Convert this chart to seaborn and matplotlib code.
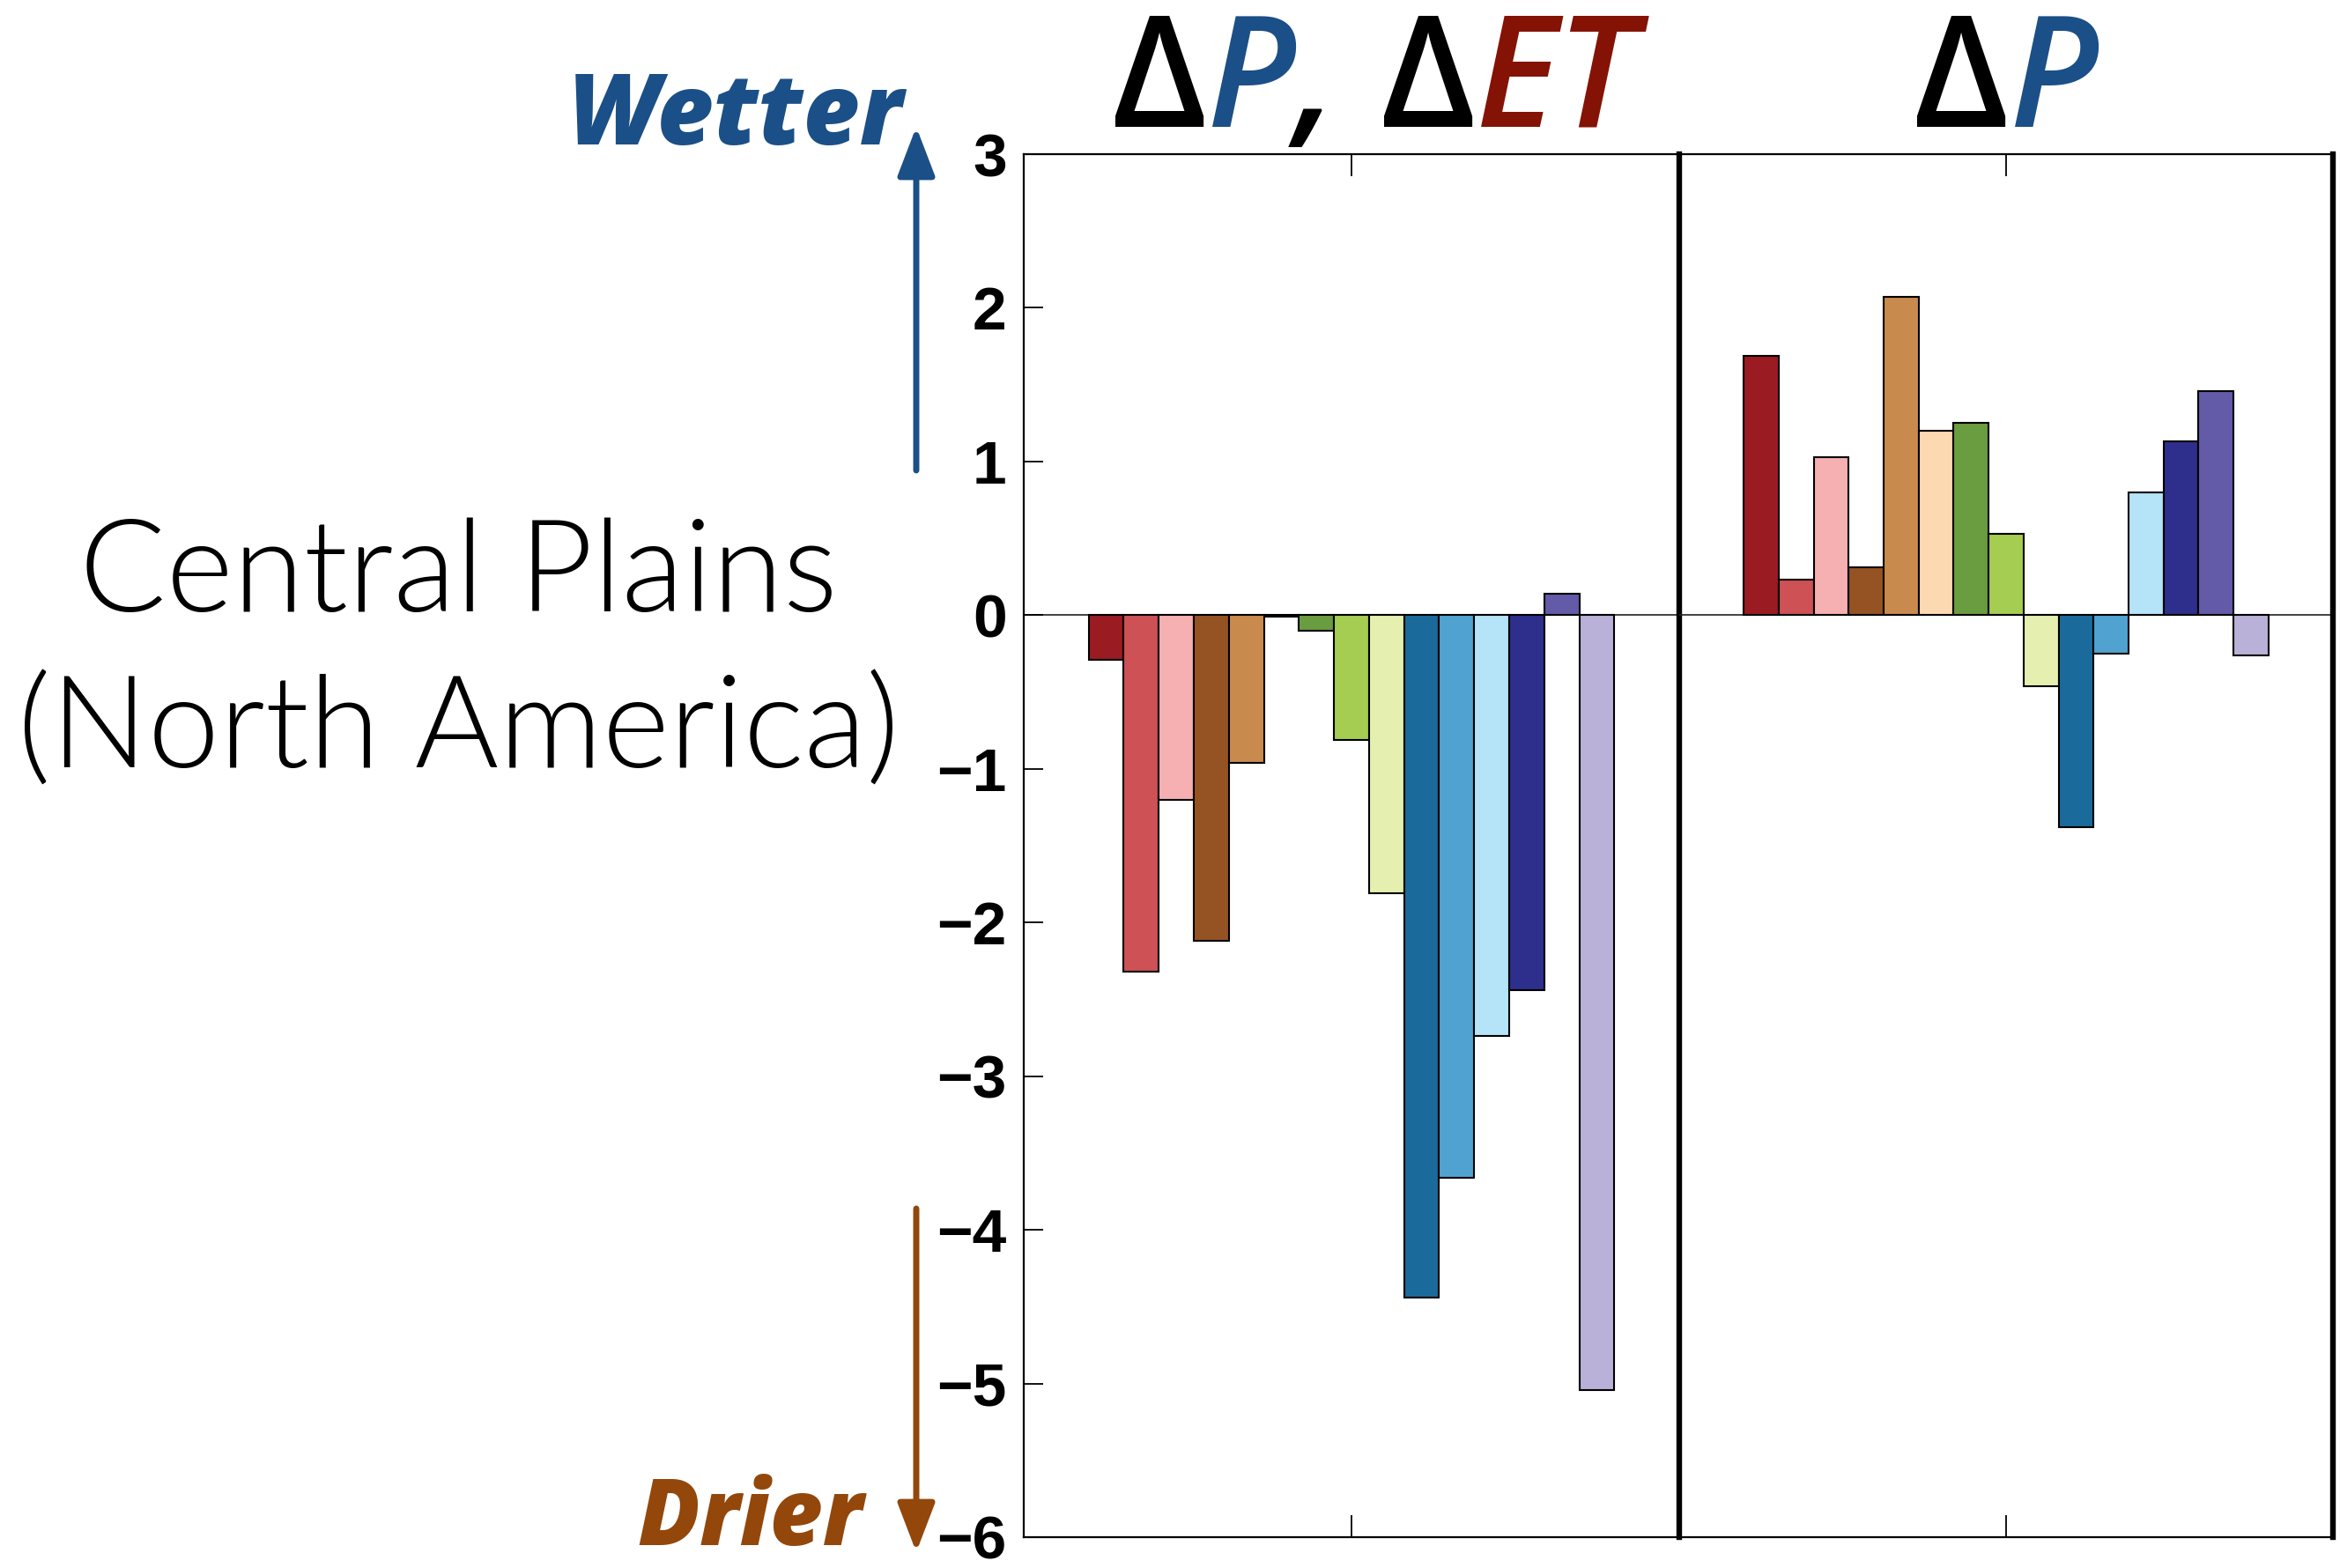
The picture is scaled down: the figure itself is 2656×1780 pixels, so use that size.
import matplotlib
matplotlib.use("Agg")
import matplotlib.pyplot as plt
import seaborn as sns

# ---- data ---------------------------------------------------------------
members = ["m01", "m02", "m03", "m04", "m05", "m06", "m07", "m08",
           "m09", "m10", "m11", "m12", "m13", "m14", "m15"]
member_colors = ["#9B1B22", "#CD5155", "#F6B0B2", "#955324", "#C98A4E",
                 "#FDD9B2", "#6A9C40", "#A5CD52", "#E5EFB0", "#1A6B9B",
                 "#50A3D0", "#B5E3F8", "#2E2F8C", "#635AA8", "#BAB1D9"]
# P - ET change
dp_det = [-0.29, -2.32, -1.20, -2.12, -0.96, -0.01, -0.10, -0.81,
          -1.81, -4.44, -3.66, -2.74, -2.44, 0.14, -5.04]
# P change
dp = [1.69, 0.23, 1.03, 0.31, 2.07, 1.20, 1.25, 0.53,
      -0.46, -1.38, -0.25, 0.80, 1.13, 1.46, -0.26]
y_ticks = [-6, -5, -4, -3, -2, -1, 0, 1, 2, 3]

BLUE = "#1B4F87"
BROWN = "#93470B"
ET_RED = "#841305"

sns.set_style("white")
plt.rcParams["font.family"] = ["Liberation Sans", "DejaVu Sans"]

W, H = 2656, 1780
fig = plt.figure(figsize=(W / 100, H / 100), dpi=100)

bottom, top = 1745, 175
ax1 = fig.add_axes([1162 / W, 1 - bottom / H, (1906 - 1162) / W, (bottom - top) / H])
ax2 = fig.add_axes([1906 / W, 1 - bottom / H, (2648 - 1906) / W, (bottom - top) / H])
ax2.patch.set_visible(False)

for ax, vals in ((ax1, dp_det), (ax2, dp)):
    sns.barplot(x=members, y=vals, hue=members, order=members, hue_order=members,
                palette=member_colors, saturation=1, dodge=False, width=1.0,
                edgecolor="black", linewidth=1.5, legend=False, ax=ax)
    ax.axhline(0, color="#222222", lw=1.2, zorder=0.5)
    ax.set_xlim(-2.35, 16.35)
    ax.set_ylim(-6, 3)
    ax.set_xlabel("")
    ax.set_ylabel("")
    ax.set_xticks([7])
    ax.set_xticklabels([])
    ax.tick_params(axis="x", direction="in", top=True, bottom=True,
                   length=18, width=1.3, color="black")
    for side in ("top", "bottom", "left"):
        ax.spines[side].set_color("black")
        ax.spines[side].set_linewidth(1.6)
    ax.spines["right"].set_color("black")
    ax.spines["right"].set_linewidth(4.6)
    ax.spines["right"].set_zorder(5)

ax1.set_yticks(y_ticks)
ax1.set_yticklabels([f"{v}".replace("-", "\u2212") for v in y_ticks],
                    fontsize=50, fontweight="bold", color="black")
ax1.tick_params(axis="y", direction="in", left=True, right=False,
                length=16, width=1.3, pad=14, color="black")
ax2.set_yticks([])
ax2.spines["left"].set_visible(False)

# ---- panel headings built from coloured pieces --------------------------
title_family = ["Open Sans", "DejaVu Sans"]
renderer = fig.canvas.get_renderer()


def coloured_heading(xc, y, parts, size):
    texts, widths = [], []
    for s, c, style, gap in parts:
        t = fig.text(0, y, s, color=c, fontsize=size, fontstyle=style,
                     fontweight=600, family=title_family,
                     ha="left", va="baseline")
        texts.append(t)
        widths.append(t.get_window_extent(renderer).width + gap)
    x = xc * W - sum(widths) / 2
    for t, w in zip(texts, widths):
        t.set_x(x / W)
        x += w


coloured_heading(1560 / W, 1 - 144 / H,
                 [("\u0394", "black", "normal", 0),
                  ("P", BLUE, "italic", 0),
                  (",", "black", "italic", 50),
                  ("\u0394", "black", "normal", 0),
                  ("ET", ET_RED, "italic", 0)], 127)
coloured_heading(2277 / W, 1 - 144 / H,
                 [("\u0394", "black", "normal", 0),
                  ("P", BLUE, "italic", 0)], 127)

# ---- region name --------------------------------------------------------
for line, base in (("Central Plains", 694), ("(North America)", 872)):
    fig.text(520 / W, 1 - base / H, line, fontsize=105,
             family=["Lato", "Open Sans", "DejaVu Sans"], fontweight=300,
             ha="center", va="baseline", color="black")

# ---- wetter / drier arrows ----------------------------------------------
fig.text(1025 / W, 1 - 164 / H, "Wetter", color=BLUE, fontsize=80,
         family=["Open Sans", "DejaVu Sans"], fontweight=800,
         fontstyle="italic", ha="right", va="baseline")
fig.text(980 / W, 1 - 1754 / H, "Drier", color=BROWN, fontsize=75,
         family=["Open Sans", "DejaVu Sans"], fontweight=800,
         fontstyle="italic", ha="right", va="baseline")

arrow_style = "-|>,head_length=34,head_width=13"
fig.add_artist(matplotlib.patches.FancyArrowPatch(
    (1040 / W, 1 - 534 / H), (1040 / W, 1 - 144 / H),
    transform=fig.transFigure, arrowstyle=arrow_style, mutation_scale=1,
    color=BLUE, lw=5, shrinkA=0, shrinkB=0))
fig.add_artist(matplotlib.patches.FancyArrowPatch(
    (1040 / W, 1 - 1372 / H), (1040 / W, 1 - 1762 / H),
    transform=fig.transFigure, arrowstyle=arrow_style, mutation_scale=1,
    color=BROWN, lw=5, shrinkA=0, shrinkB=0))

fig.savefig("out.png", dpi=100, facecolor="white")
